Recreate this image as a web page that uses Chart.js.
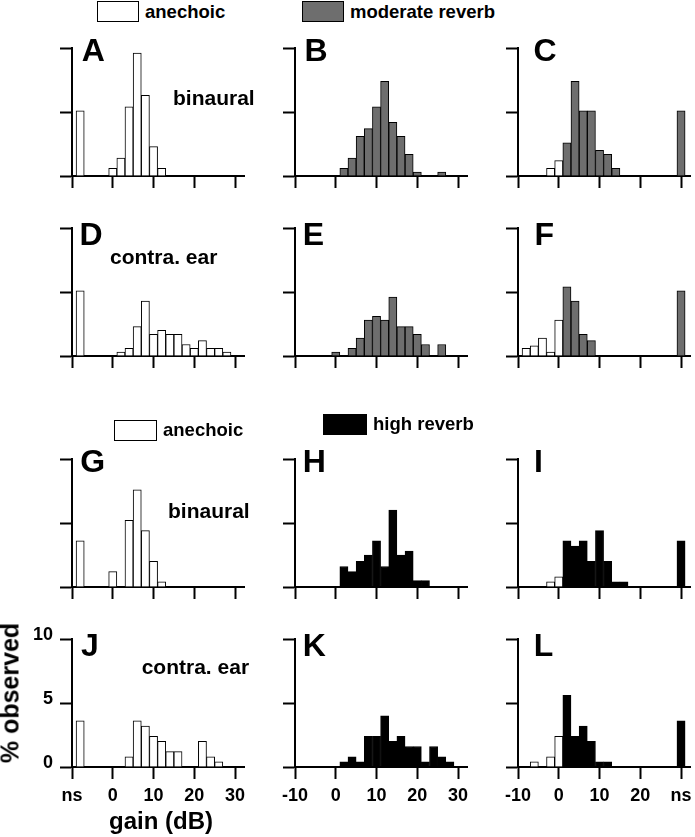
<!DOCTYPE html>
<html>
<head>
<meta charset="utf-8">
<script src="https://cdn.jsdelivr.net/npm/chart.js@4.4.1/dist/chart.umd.min.js"></script>
<style>
  html, body { margin: 0; padding: 0; background: #fff; overflow: hidden; }
  #fig { position: relative; width: 695px; height: 837px; font-family: 'Liberation Sans', Arial, sans-serif; font-weight: bold; color: #000; }
  #fig canvas { position: absolute; }
  .t { position: absolute; white-space: nowrap; }
  .box { position: absolute; box-sizing: border-box; border: 1.5px solid #000; }
</style>
</head>
<body>
<div id="fig"></div>
<script>
// bin centres in dB (2 dB wide bins)
const gainBins = [-8, -6, -4, -2, 0, 2, 4, 6, 8, 10, 12, 14, 16, 18, 20, 22, 24, 26, 28];

// % observed in each bin, 0 = empty
//                  -8   -6   -4   -2    0    2    4    6    8   10   12   14   16   18   20   22   24   26   28
const anechoicA = [  0,   0,   0,   0, 0.6, 1.4, 5.4, 9.6, 6.3, 2.3, 0.6,   0,   0,   0,   0,   0,   0,   0,   0];
const reverbB   = [  0,   0,   0,   0,   0, 0.6, 1.4, 3.1, 3.7, 5.4, 7.4, 4.2, 3.1, 1.7, 0.3,   0,   0, 0.3,   0];
const anechoicC = [  0,   0,   0, 0.6, 1.2,   0,   0,   0,   0,   0,   0,   0,   0,   0,   0,   0,   0,   0,   0];
const reverbC   = [  0,   0,   0,   0,   0, 2.6, 7.4, 5.1, 5.1, 2.0, 1.7, 0.6,   0,   0,   0,   0,   0,   0,   0];
const anechoicD = [  0,   0,   0,   0,   0, 0.3, 0.6, 2.3, 4.3, 1.7, 2.0, 1.7, 1.7, 0.9, 0.6, 1.2, 0.6, 0.6, 0.3];
const reverbE   = [  0,   0,   0,   0, 0.3,   0, 0.6, 1.4, 2.8, 3.1, 2.8, 4.6, 2.3, 2.3, 1.7, 0.9,   0, 0.9,   0];
const anechoicF = [0.6, 0.8, 1.4, 0.3, 2.8,   0,   0,   0,   0,   0,   0,   0,   0,   0,   0,   0,   0,   0,   0];
const reverbF   = [  0,   0,   0,   0,   0, 5.4, 4.3, 1.7, 1.2,   0,   0,   0,   0,   0,   0,   0,   0,   0,   0];
const anechoicG = [  0,   0,   0,   0, 1.2,   0, 5.2, 7.6, 4.4, 2.0, 0.4,   0,   0,   0,   0,   0,   0,   0,   0];
const reverbH   = [  0,   0,   0,   0,   0, 1.6, 1.2, 2.0, 2.5, 3.6, 1.6, 6.0, 2.5, 2.8, 0.5, 0.5,   0,   0,   0];
const anechoicI = [  0,   0,   0, 0.4, 0.8,   0,   0,   0,   0,   0,   0,   0,   0,   0,   0,   0,   0,   0,   0];
const reverbI   = [  0,   0,   0,   0,   0, 3.6, 3.2, 3.6, 2.0, 4.4, 2.0, 0.4, 0.4,   0,   0,   0,   0,   0,   0];
const anechoicJ = [  0,   0,   0,   0,   0,   0, 0.8, 3.6, 3.2, 2.4, 2.0, 1.2, 1.2,   0,   0, 2.0, 0.8, 0.4,   0];
const reverbK   = [  0,   0,   0,   0,   0, 0.4, 0.8, 0.4, 2.4, 2.4, 4.0, 2.0, 2.4, 1.6, 1.6, 0.4, 1.6, 0.8, 0.4];
const anechoicL = [  0, 0.4,   0, 0.8, 2.4,   0,   0,   0,   0,   0,   0,   0,   0,   0,   0,   0,   0,   0,   0];
const reverbL   = [  0,   0,   0,   0,   0, 5.6, 2.4, 3.2, 2.0, 0.4, 0.4,   0,   0,   0,   0,   0,   0,   0,   0];

// "ns" (not significant) bars, rows top to bottom
const nsLeft  = [5.1, 5.1, 3.6, 3.6];   // A D G J, drawn at -8 dB slot
const nsRight = [5.1, 5.1, 3.6, 3.6];   // C F I L, drawn at the 30 dB tick
const nsLeftBin = -8;
const nsRightBin = 30;

const yTicks = [0, 5, 10];
const xTicks = [-10, 0, 10, 20, 30];
const xTickLabels = [
  ['ns', '0', '10', '20', '30'],
  ['-10', '0', '10', '20', '30'],
  ['-10', '0', '10', '20', 'ns']
];

// layout
const colAxisX = [72, 295, 518];
const rowTopY = [48, 228, 459, 639];
const GREY = '#6e6e6e';
const BLACK = '#000000';
const WHITE = '#ffffff';

Chart.defaults.font.family = "'Liberation Sans', Arial, sans-serif";
Chart.defaults.font.weight = 'bold';
Chart.defaults.color = '#000';

const fig = document.getElementById('fig');

const panels = [
  { row: 0, col: 0, white: anechoicA, ns: nsLeft[0] },
  { row: 0, col: 1, fill: reverbB },
  { row: 0, col: 2, white: anechoicC, fill: reverbC, ns: nsRight[0] },
  { row: 1, col: 0, white: anechoicD, ns: nsLeft[1] },
  { row: 1, col: 1, fill: reverbE },
  { row: 1, col: 2, white: anechoicF, fill: reverbF, ns: nsRight[1] },
  { row: 2, col: 0, white: anechoicG, ns: nsLeft[2] },
  { row: 2, col: 1, fill: reverbH },
  { row: 2, col: 2, white: anechoicI, fill: reverbI, ns: nsRight[2] },
  { row: 3, col: 0, white: anechoicJ, ns: nsLeft[3] },
  { row: 3, col: 1, fill: reverbK },
  { row: 3, col: 2, white: anechoicL, fill: reverbL, ns: nsRight[3] }
];

function toPoints(vals) {
  return gainBins.map((g, i) => ({ x: g, y: vals[i] ? vals[i] : null }));
}

function axisGrid() {
  return { display: true, drawOnChartArea: false, drawTicks: true, tickLength: 12, tickWidth: 2, tickColor: '#000', offset: false };
}

panels.forEach(p => {
  const cv = document.createElement('canvas');
  cv.width = 228;
  cv.height = 190;
  cv.style.width = '228px';
  cv.style.height = '190px';
  cv.style.left = (colAxisX[p.col] - 52) + 'px';
  cv.style.top = (rowTopY[p.row] - 12) + 'px';
  fig.appendChild(cv);

  const reverbColor = p.row < 2 ? GREY : BLACK;
  const datasets = [];
  if (p.white) datasets.push({ data: toPoints(p.white), backgroundColor: WHITE });
  if (p.fill) datasets.push({ data: toPoints(p.fill), backgroundColor: reverbColor });
  if (p.ns !== undefined) {
    datasets.push({
      data: [{ x: p.col === 0 ? nsLeftBin : nsRightBin, y: p.ns }],
      backgroundColor: p.col === 0 ? WHITE : reverbColor
    });
  }

  new Chart(cv, {
    type: 'bar',
    data: { datasets: datasets },
    options: {
      responsive: false,
      animation: false,
      events: [],
      layout: { padding: { top: 12, right: 4, left: 0, bottom: 0 } },
      plugins: { legend: { display: false }, tooltip: { enabled: false } },
      datasets: {
        bar: { grouped: false, barPercentage: 1, categoryPercentage: 1, borderWidth: 1, borderColor: '#000' }
      },
      scales: {
        x: {
          type: 'linear', min: -10, max: 32.2, offset: false,
          grid: axisGrid(),
          border: { display: true, width: 2, color: '#000' },
          ticks: {
            padding: 6, font: { size: 18, weight: 'bold' }, maxRotation: 0,
            callback: (v, i) => p.row === 3 ? xTickLabels[p.col][i] : ''
          },
          afterBuildTicks: s => { s.ticks = xTicks.map(v => ({ value: v })); },
          afterFit: s => { s.height = 50; s.paddingLeft = 0; s.paddingRight = 0; }
        },
        y: {
          min: 0, max: 10,
          grid: axisGrid(),
          border: { display: true, width: 2, color: '#000' },
          ticks: {
            padding: 7, labelOffset: -4, font: { size: 18, weight: 'bold' },
            callback: (v, i) => (p.row === 3 && p.col === 0) ? String(yTicks[i]) : ''
          },
          afterBuildTicks: s => { s.ticks = yTicks.map(v => ({ value: v })); },
          afterFit: s => { s.width = 52; s.paddingTop = 0; s.paddingBottom = 0; }
        }
      }
    }
  });
});

// text helpers
function addText(str, left, baseline, size) {
  const d = document.createElement('div');
  d.className = 't';
  d.textContent = str;
  d.style.fontSize = size + 'px';
  d.style.lineHeight = size + 'px';
  d.style.left = left + 'px';
  d.style.top = (baseline - 0.8465 * size) + 'px';
  fig.appendChild(d);
  return d;
}
function addBox(left, top, w, h, color) {
  const d = document.createElement('div');
  d.className = 'box';
  d.style.left = left + 'px';
  d.style.top = top + 'px';
  d.style.width = w + 'px';
  d.style.height = h + 'px';
  d.style.background = color;
  fig.appendChild(d);
}

// legends
addBox(97, 1, 42, 21, WHITE);
addText('anechoic', 145, 18.3, 18.5);
addBox(302, 1, 42, 21, GREY);
addText('moderate reverb', 350, 18.3, 18.5);
addBox(114, 420, 43, 21, WHITE);
addText('anechoic', 163, 436.7, 18.5);
addBox(323, 414, 44, 21, BLACK);
addText('high reverb', 373, 431, 18.5);

// panel letters
const letters = ['A', 'B', 'C', 'D', 'E', 'F', 'G', 'H', 'I', 'J', 'K', 'L'];
const letterLeft = [81.7, 304.4, 533.6, 79.4, 302.7, 534.4, 80.3, 302.7, 534, 81, 302.7, 533.7];
const letterBase = [61.5, 61.5, 61.5, 245, 245, 245, 472, 472, 472, 656, 656, 656];
letters.forEach((l, i) => addText(l, letterLeft[i], letterBase[i], 32));

// condition labels
addText('binaural', 173, 104.3, 21);
addText('contra. ear', 110, 264, 21);
addText('binaural', 168, 517.3, 21);
addText('contra. ear', 141.7, 674, 21);

// axis titles
const gx = addText('gain (dB)', 161, 829, 24);
gx.style.transform = 'translateX(-50%)';

const yt = document.createElement('div');
yt.className = 't';
yt.textContent = '% observed';
yt.style.fontSize = '25px';
yt.style.lineHeight = '25px';
yt.style.left = '10px';
yt.style.top = '693px';
yt.style.transform = 'translate(-50%, -50%) rotate(-90deg)';
fig.appendChild(yt);
</script>
</body>
</html>
